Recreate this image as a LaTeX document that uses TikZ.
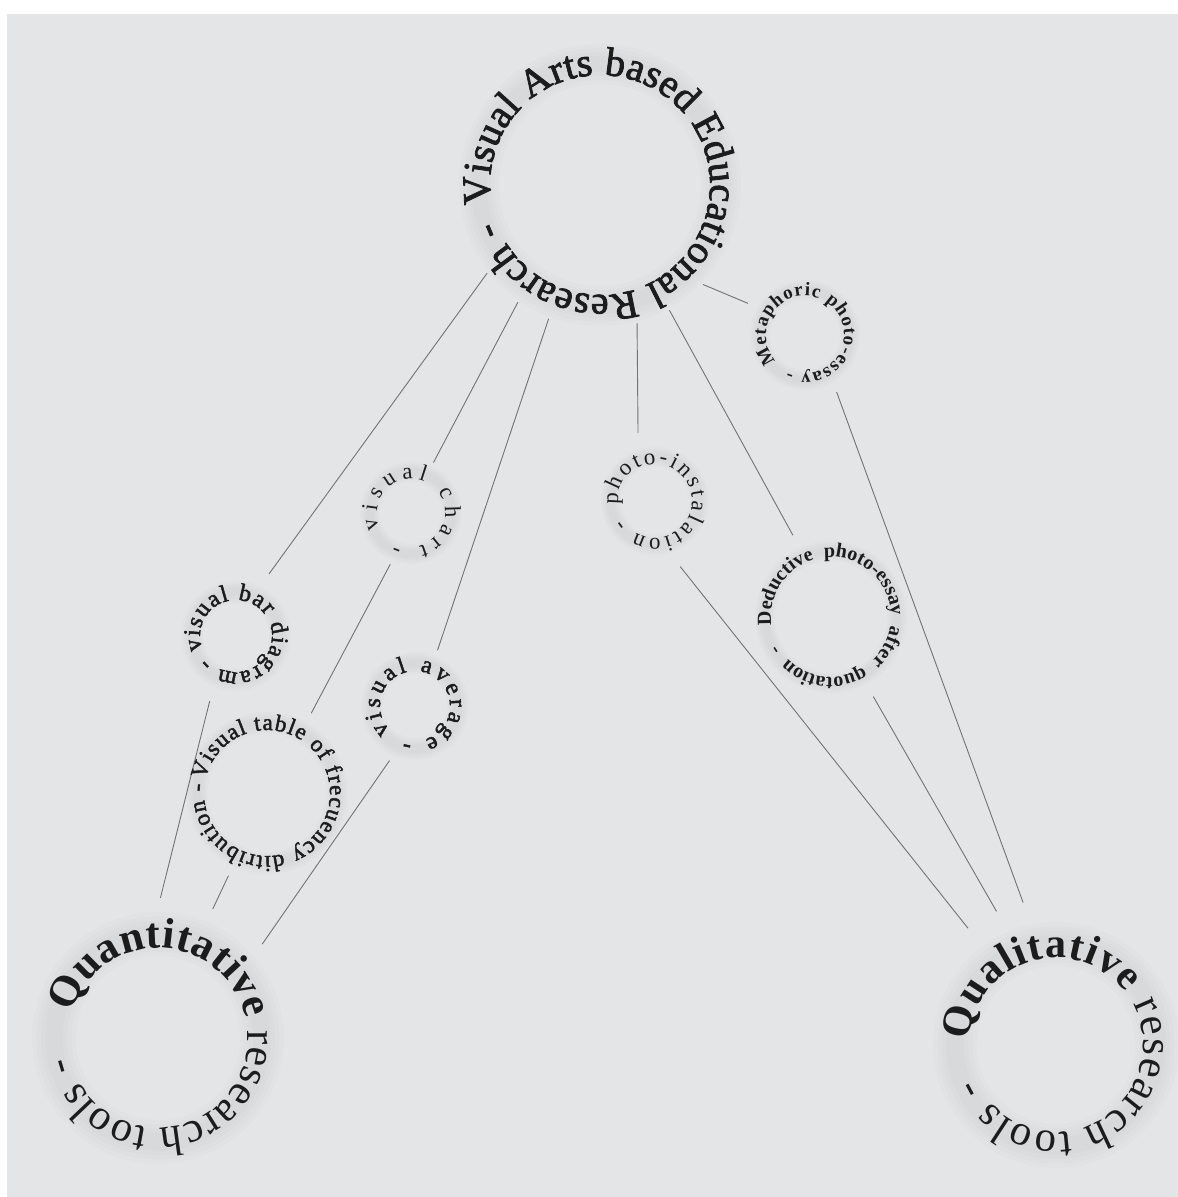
\documentclass[tikz,border=0pt]{standalone}
\usepackage{fontspec}
\setmainfont{Liberation Serif}
\newfontfamily\semib[FakeBold=2]{Liberation Serif}
\usetikzlibrary{decorations.text}
\definecolor{bgc}{RGB}{228,229,231}
\definecolor{ink}{RGB}{28,28,28}
\definecolor{linec}{RGB}{115,115,115}
% #1 node, #2 baseline radius, #3 start angle, #4 end angle, #5 align, #6 text
\newcommand\ring[6]{%
  \path[decorate, decoration={text along path, text color=ink, text align={#5}, text={#6}}]
    (#1.center) ++(#3:#2) arc[start angle=#3, end angle=#4, radius=#2];}
% soft shadow band: #1 node, #2 radius, #3 width
\newcommand\glow[3]{%
  \foreach \k in {1.0,0.8,0.6,0.4} {\draw[black, opacity=0.012, line width=\k*#3] (#1.center) circle[radius=#2];}}
\begin{document}
\begin{tikzpicture}[x=1pt,y=1pt,
  hub/.style={circle, inner sep=0pt, minimum size=2*#1},
  link/.style={draw=linec, line width=0.9pt}]
\fill[white] (0,0) rectangle (1178,1197);
\fill[bgc] (7,0) rectangle (1178,1183);
\useasboundingbox (0,0) rectangle (1178,1197);

% nodes (connection circles)
\node[hub=143] (top) at (600,1012) {};
\node[hub=140] (quant) at (158,159) {};
\node[hub=146] (qual) at (1056,152) {};
\node[hub=65] (meta) at (805,862) {};
\node[hub=70] (photo) at (655,696) {};
\node[hub=55] (chart) at (411,684) {};
\node[hub=70] (bar) at (236,561) {};
\node[hub=60] (average) at (415,491) {};
\node[hub=91] (table) at (267,404) {};
\node[hub=90] (deductive) at (831,580) {};

% connectors
\draw[link] (top.218.7) -- (bar.62);
\draw[link] (bar.248.5) -- (quant.89.2);
\draw[link] (top.235) -- (chart.66.4);
\draw[link] (chart.248) -- (table.61.7);
\draw[link] (table.245.1) -- (quant.67);
\draw[link] (top.249.7) -- (average.68.4);
\draw[link] (average.245.2) -- (quant.42.9);
\draw[link] (top.285.4) -- (photo.104.9);
\draw[link] (photo.291.5) -- (qual.127);
\draw[link] (top.299.7) -- (deductive.115.4);
\draw[link] (deductive.298.1) -- (qual.114.5);
\draw[link] (top.316.4) -- (meta.151.4);
\draw[link] (meta.299.6) -- (qual.103);

% shadows
\glow{top}{121}{40}
\glow{quant}{104}{44}
\glow{qual}{101}{44}
\glow{meta}{45}{20}
\glow{photo}{44}{20}
\glow{chart}{41}{20}
\glow{bar}{44}{22}
\glow{average}{43}{22}
\glow{table}{70}{22}
\glow{deductive}{66}{20}

% ring texts
\ring{top}{110}{190}{-161}{fit to path}{|\semib\fontsize{40}{44}\selectfont|Visual Arts based Educational Research -}
\ring{quant}{90}{164}{-168}{fit to path}{|\bfseries\fontsize{43}{48}\selectfont|Quantitative|\normalfont\fontsize{43}{48}\selectfont| research tools -}
\ring{qual}{87}{177}{-157}{fit to path}{|\bfseries\fontsize{42}{48}\selectfont|Qualitative|\normalfont\fontsize{43}{48}\selectfont| research tools -}
\ring{meta}{39}{222}{-115}{fit to path}{|\bfseries\fontsize{19}{22}\selectfont|Metaphoric photo-essay -}
\ring{photo}{37}{186}{-150}{fit to path}{|\normalfont\fontsize{23}{26}\selectfont|photo-instalation -}
\ring{chart}{34}{206}{-118}{fit to path}{|\normalfont\fontsize{23}{26}\selectfont|visual chart -}
\ring{bar}{36}{202}{-143}{fit to path}{|\semib\fontsize{24}{27}\selectfont|visual bar diagram -}
\ring{average}{35}{225}{-108}{fit to path}{|\semib\fontsize{24}{27}\selectfont|visual average -}
\ring{table}{63}{168}{-188}{fit to path}{|\semib\fontsize{23}{26}\selectfont|Visual table of frecuency ditribution -}
\ring{deductive}{60}{188}{-152}{fit to path stretching spaces}{|\bfseries\fontsize{20}{23}\selectfont|Deductive photo-essay after quotation -}
\end{tikzpicture}
\end{document}
